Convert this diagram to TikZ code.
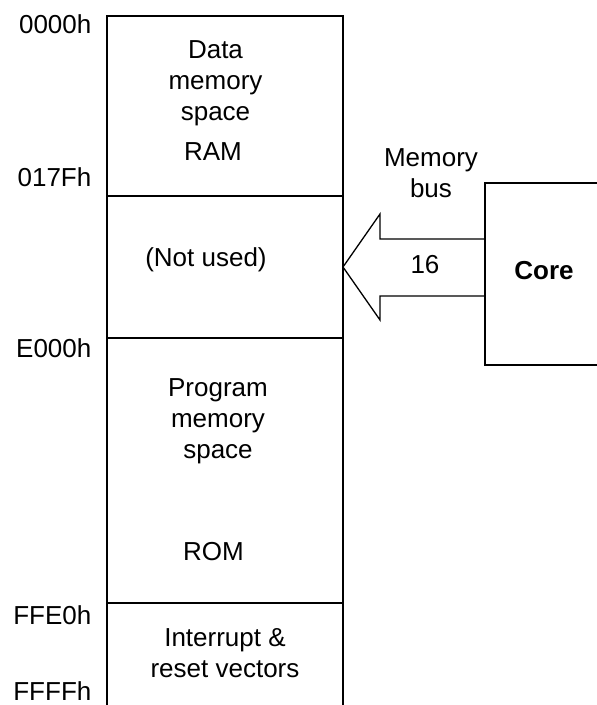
\documentclass[tikz,border=0pt]{standalone}
\usepackage{fontspec}
\setmainfont{Liberation Sans}
\usetikzlibrary{positioning}

\begin{document}
\begin{tikzpicture}[x=1pt,y=-1pt,line width=1.3pt,
	font=\fontsize{26}{31}\selectfont,
	every node/.style={align=center,inner sep=0pt},
	addr/.style={anchor=base east},
	lbl/.style={anchor=base}]
	\useasboundingbox (0,0) rectangle (597,705);
	% memory map
	\coordinate (mtl) at (107,16);
	\coordinate (mtr) at (343,16);
	\coordinate (mbl) at (107,705);
	\coordinate (mbr) at (343,705);
	\draw (mbl)--(mtl)--(mtr)--(mbr);
	\draw (107,196)--(343,196);
	\draw (107,338)--(343,338);
	\draw (107,603)--(343,603);
	\node (data) at (215.5,82.8) {Data\\memory\\space};
	\node[lbl] (ram) at (213,160) {RAM};
	\node[lbl] (unused) at (206,266.7) {(Not used)};
	\node (prog) at (218,421.5) {Program\\memory\\space};
	\node[lbl] (rom) at (213.5,560) {ROM};
	\node (vect) at (225,652.8) {Interrupt \&\\reset vectors};
	% addresses
	\node[addr] (a0) at (92,33.3) {0000h};
	\node[addr] (a1) at (92,186.7) {017Fh};
	\node[addr] (a2) at (92,357) {E000h};
	\node[addr] (a3) at (92,624) {FFE0h};
	\node[addr] (a4) at (92,700) {FFFFh};
	% core and bus
	\draw (597,183)--(485,183)--(485,365)--(597,365);
	\node[lbl] (core) at (544,279.3) {\bfseries Core};
	\node (bus) at (431,173.2) {Memory\\bus};
	\draw (485,239)--(380,239)--(380,214)--(343,267)--(380,320)--(380,296)--(485,296);
	\node[lbl] (width) at (425,273) {16};
\end{tikzpicture}
\end{document}
